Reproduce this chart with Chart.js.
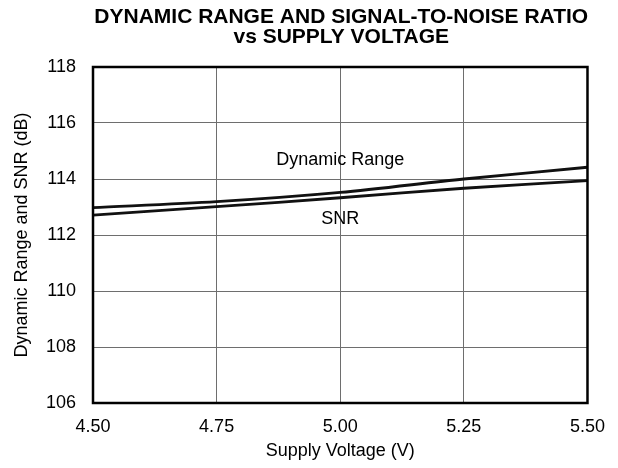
<!DOCTYPE html>
<html>
<head>
<meta charset="utf-8">
<script src="https://cdn.jsdelivr.net/npm/chart.js@4"></script>
<style>
html,body{margin:0;padding:0;background:#fff;}
#wrap{width:618px;height:468px;position:relative;}
</style>
</head>
<body>
<div id="wrap"><canvas id="c" width="618" height="468"></canvas></div>
<script>
const titleLines = ["DYNAMIC RANGE AND SIGNAL-TO-NOISE RATIO", "vs SUPPLY VOLTAGE"];
const xTitle = "Supply Voltage (V)";
const yTitle = "Dynamic Range and SNR (dB)";
const voltages = [4.50, 4.75, 5.00, 5.25, 5.50];
const dynamicRange = [112.98, 113.19, 113.52, 114.00, 114.42];
const snr = [112.71, 113.01, 113.33, 113.67, 113.94];
const seriesNames = ["Dynamic Range", "SNR"];
const labelPositions = [[5.00, 114.68], [5.00, 112.56]];
const xMin = 4.50, xMax = 5.50, xStep = 0.25;
const yMin = 106, yMax = 118, yStep = 2;

const FONT = "'Liberation Sans', Arial, Helvetica, sans-serif";

const decor = {
  id: 'decor',
  afterDraw(chart) {
    const ctx = chart.ctx;
    const a = chart.chartArea;
    const xs = chart.scales.x, ys = chart.scales.y;
    ctx.save();
    ctx.strokeStyle = '#000';
    ctx.lineWidth = 2.5;
    ctx.strokeRect(a.left, a.top, a.right - a.left, a.bottom - a.top);
    ctx.fillStyle = '#000';
    ctx.font = "bold 21px " + FONT;
    ctx.textAlign = 'center';
    ctx.textBaseline = 'middle';
    const cx = (a.left + a.right) / 2 + 1;
    ctx.fillText(titleLines[0], cx, 17);
    ctx.fillText(titleLines[1], cx, 37);
    ctx.font = "18px " + FONT;
    seriesNames.forEach((n, i) => {
      ctx.fillText(n, xs.getPixelForValue(labelPositions[i][0]), ys.getPixelForValue(labelPositions[i][1]));
    });
    ctx.restore();
  }
};

new Chart(document.getElementById('c'), {
  type: 'line',
  data: {
    datasets: [
      { label: seriesNames[0], data: voltages.map((v, i) => ({x: v, y: dynamicRange[i]})),
        borderColor: '#111', borderWidth: 2.8, pointRadius: 0, tension: 0.3, fill: false },
      { label: seriesNames[1], data: voltages.map((v, i) => ({x: v, y: snr[i]})),
        borderColor: '#111', borderWidth: 2.8, pointRadius: 0, tension: 0.3, fill: false }
    ]
  },
  options: {
    responsive: false,
    animation: false,
    devicePixelRatio: 1,
    layout: { padding: { top: 67, right: 28, left: 0, bottom: 0 } },
    plugins: { legend: { display: false }, title: { display: false }, tooltip: { enabled: false } },
    scales: {
      x: {
        type: 'linear', min: xMin, max: xMax,
        afterFit(s) { s.height = 65; },
        ticks: { stepSize: xStep, color: '#000', padding: 13, maxRotation: 0,
          font: { family: FONT, size: 18 },
          callback: v => Number(v).toFixed(2) },
        grid: { color: '#6e6e6e', lineWidth: 1, drawTicks: false },
        border: { display: false },
        title: { display: true, text: xTitle, color: '#000', font: { family: FONT, size: 18 }, padding: { top: 4, bottom: 6 } }
      },
      y: {
        min: yMin, max: yMax,
        afterFit(s) { s.width = 93; },
        ticks: { stepSize: yStep, color: '#000', padding: 17, font: { family: FONT, size: 18 } },
        grid: { color: '#6e6e6e', lineWidth: 1, drawTicks: false },
        border: { display: false },
        title: { display: true, text: yTitle, color: '#000', font: { family: FONT, size: 18 }, padding: { top: 11, bottom: 4 } }
      }
    }
  },
  plugins: [decor]
});
</script>
</body>
</html>
